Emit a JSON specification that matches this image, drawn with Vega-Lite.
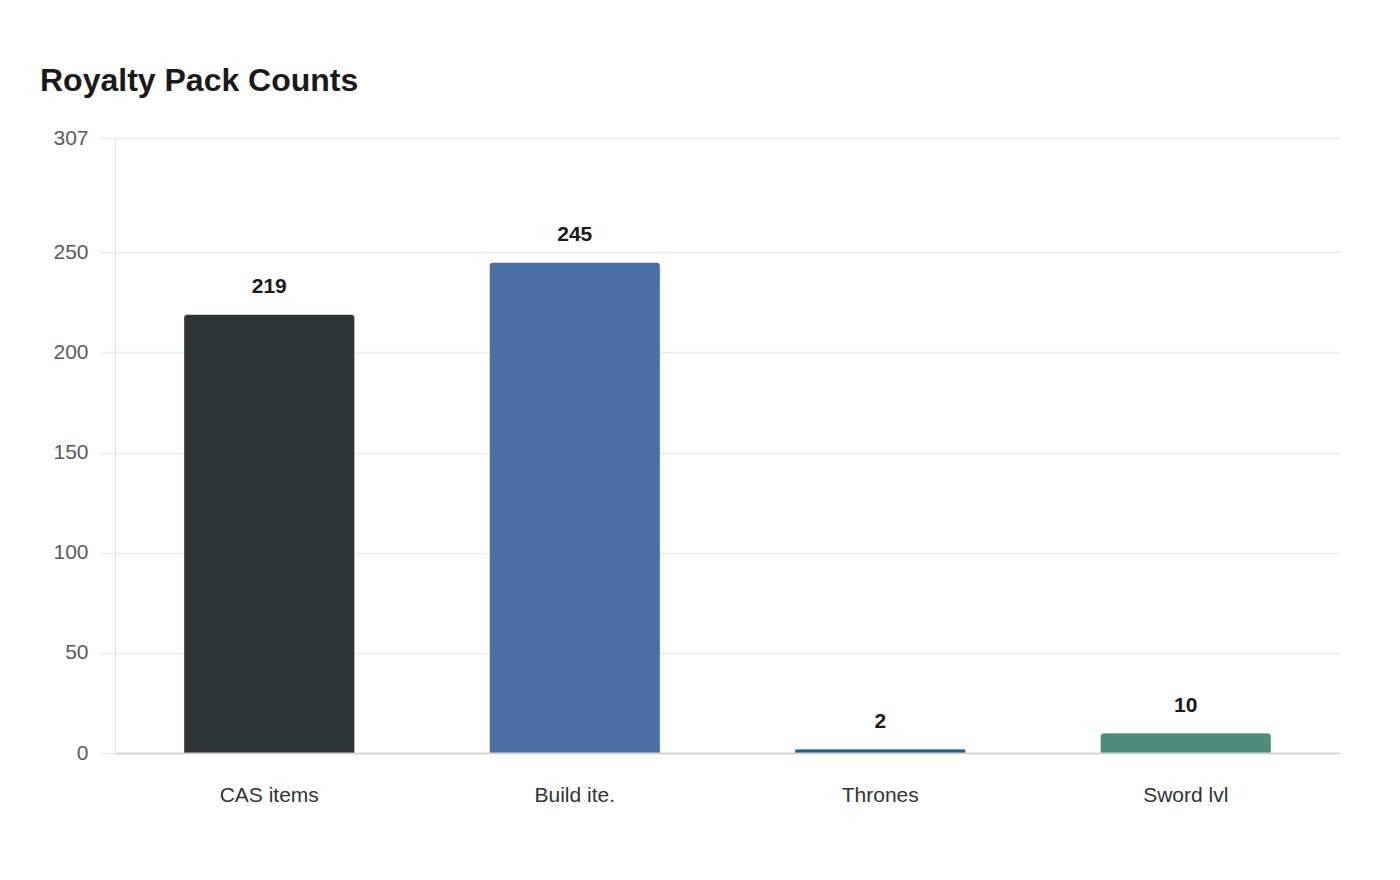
{
  "$schema": "https://vega.github.io/schema/vega-lite/v6.json",
  "autosize": "none",
  "width": 1225,
  "height": 615,
  "padding": {"left": 115, "top": 138, "right": 60, "bottom": 127},
  "background": "#ffffff",
  "title": {
    "text": "Royalty Pack Counts",
    "anchor": "start",
    "frame": "group",
    "dx": -75,
    "offset": 29,
    "font": "Liberation Sans",
    "fontSize": 32,
    "fontWeight": "bold",
    "color": "#1a1a1a"
  },
  "config": {
    "view": {"stroke": null},
    "font": "Liberation Sans"
  },
  "data": {
    "values": [
      {"category": "CAS items", "count": 219},
      {"category": "Build ite.", "count": 245},
      {"category": "Thrones", "count": 2},
      {"category": "Sword lvl", "count": 10}
    ]
  },
  "encoding": {
    "x": {
      "field": "category",
      "type": "nominal",
      "sort": null,
      "scale": {"paddingInner": 0.44, "paddingOuter": 0.225},
      "axis": {
        "title": null,
        "labelAngle": 0,
        "labelFont": "Liberation Sans",
        "labelFontSize": 21,
        "labelColor": "#2d3436",
        "labelPadding": 31,
        "ticks": false,
        "domainColor": "#cccccc",
        "domainWidth": 1.5,
        "grid": false
      }
    },
    "y": {
      "field": "count",
      "type": "quantitative",
      "scale": {"domain": [0, 307], "nice": false},
      "axis": {
        "title": null,
        "values": [0, 50, 100, 150, 200, 250, 307],
        "labelFont": "Liberation Sans",
        "labelFontSize": 21,
        "labelColor": "#5a5a5a",
        "labelPadding": 12,
        "tickSize": 15,
        "tickColor": "#ebebeb",
        "tickWidth": 1.5,
        "domainColor": "#e3e3e3",
        "gridColor": "#ebebeb",
        "gridWidth": 1.5
      }
    }
  },
  "layer": [
    {
      "mark": {
        "type": "bar",
        "cornerRadiusTopLeft": 4,
        "cornerRadiusTopRight": 4,
        "stroke": "#ffffff",
        "strokeWidth": 1,
        "strokeOpacity": 0.4
      },
      "encoding": {
        "color": {
          "field": "category",
          "type": "nominal",
          "sort": null,
          "legend": null,
          "scale": {
            "domain": ["CAS items", "Build ite.", "Thrones", "Sword lvl"],
            "range": ["#2d3436", "#4a6fa5", "#24618f", "#4e8c7a"]
          }
        }
      }
    },
    {
      "mark": {
        "type": "text",
        "baseline": "alphabetic",
        "dy": -21,
        "font": "Liberation Sans",
        "fontSize": 21,
        "fontWeight": "bold",
        "color": "#1a1a1a"
      },
      "encoding": {
        "text": {"field": "count", "type": "quantitative"}
      }
    }
  ]
}
